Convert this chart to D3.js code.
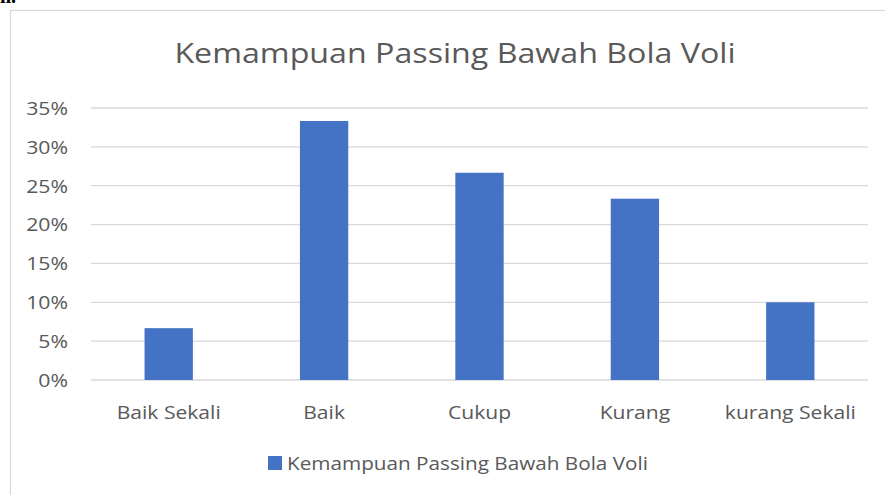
<!DOCTYPE html>
<html><head><meta charset="utf-8">
<script src="https://cdn.jsdelivr.net/npm/d3@7"></script>
<style>body{margin:0;background:#fff;overflow:hidden}svg{display:block}</style>
</head><body>
<svg id="c" width="885" height="495"></svg>
<script>
const title = "Kemampuan Passing Bawah Bola Voli";
const categories = ["Baik Sekali", "Baik", "Cukup", "Kurang", "kurang Sekali"];
const values = [0.0667, 0.3333, 0.2667, 0.2333, 0.10];
const tickValues = [0, 0.05, 0.10, 0.15, 0.20, 0.25, 0.30, 0.35];
const seriesName = "Kemampuan Passing Bawah Bola Voli";

const svg = d3.select("#c");
const font = "'Open Sans', sans-serif";
const textColor = "#595959";
const barColor = "#4472c4";

// partial heading text cropped at top
svg.append("text").attr("x", 0).attr("y", 3)
  .attr("font-family", "'Liberation Serif', serif").attr("font-weight", "bold")
  .attr("font-size", 20).attr("fill", "#000").text("n.");

// chart border
svg.append("rect").attr("x", 10.5).attr("y", 10.5).attr("width", 900).attr("height", 500)
  .attr("fill", "none").attr("stroke", "#d9d9d9").attr("stroke-width", 1.2);

const x = d3.scaleBand().domain(categories).range([91, 868]).paddingInner(0.689).paddingOuter(0.3445);
const y = d3.scaleLinear().domain([0, 0.35]).range([380, 108]);

// gridlines
svg.append("g").selectAll("line").data(tickValues).join("line")
  .attr("x1", 91).attr("x2", 868)
  .attr("y1", d => y(d)).attr("y2", d => y(d))
  .attr("stroke", "#d9d9d9").attr("stroke-width", 1.3);

// y axis labels
const yAxis = d3.axisLeft(y).tickValues(tickValues).tickFormat(d3.format(".0%")).tickSize(0).tickPadding(0);
const ya = svg.append("g").attr("transform", "translate(68,0)").call(yAxis);
ya.select(".domain").remove();
ya.selectAll("text").attr("font-family", font).attr("font-size", 18).attr("fill", textColor)
  .attr("x", 0).attr("dy", "0.35em").attr("transform", "scale(1.18,1)");

// bars
svg.append("g").selectAll("rect").data(values).join("rect")
  .attr("x", (d, i) => x(categories[i]))
  .attr("width", x.bandwidth())
  .attr("y", d => y(d))
  .attr("height", d => y(0) - y(d))
  .attr("fill", barColor);

// x axis labels
const xAxis = d3.axisBottom(x).tickSize(0).tickPadding(0);
const xa = svg.append("g").attr("transform", "translate(0,419)").call(xAxis);
xa.select(".domain").remove();
xa.selectAll("text").attr("font-family", font).attr("font-size", 18.5).attr("fill", textColor)
  .attr("y", 0).attr("dy", 0).attr("transform", "scale(1.14,1)");

// title
svg.append("g").attr("transform", "translate(455,63) scale(1.15,1)")
  .append("text").attr("text-anchor", "middle")
  .attr("font-family", font).attr("font-size", 28).attr("fill", textColor).text(title);

// legend
const lg = svg.append("g");
lg.append("rect").attr("x", 268).attr("y", 456).attr("width", 14).attr("height", 14).attr("fill", barColor);
lg.append("g").attr("transform", "translate(287,469.5) scale(1.12,1)")
  .append("text").attr("font-family", font).attr("font-size", 18.5)
  .attr("fill", textColor).text(seriesName);
</script>
</body></html>
